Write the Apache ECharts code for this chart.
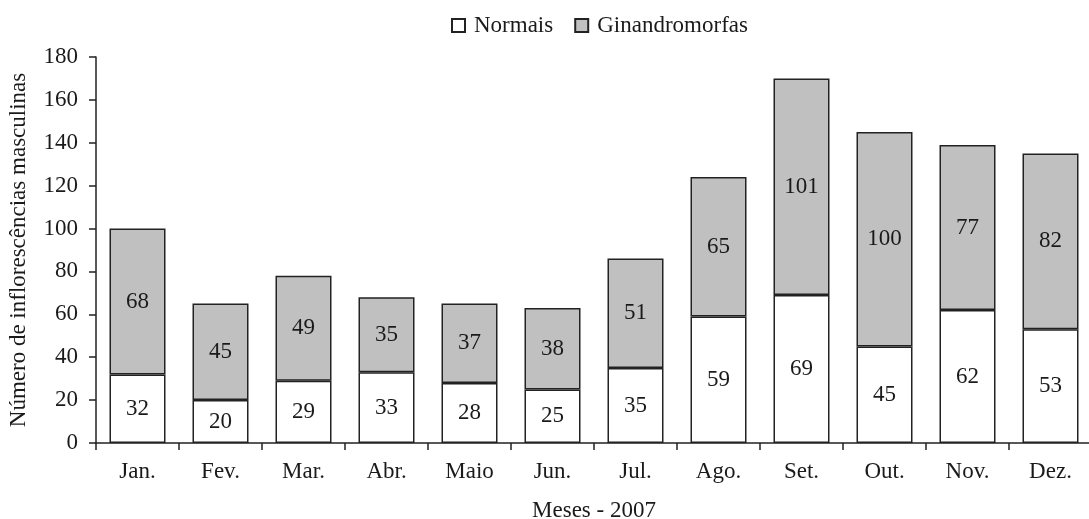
<!DOCTYPE html>
<html><head><meta charset="utf-8">
<script src="https://cdn.jsdelivr.net/npm/echarts@6/dist/echarts.min.js"></script>
<style>html,body{margin:0;padding:0;background:#fff}#c{width:1089px;height:519px}</style>
</head><body><div id="c"></div>
<script>
const categories = ['Jan.','Fev.','Mar.','Abr.','Maio','Jun.','Jul.','Ago.','Set.','Out.','Nov.','Dez.'];
const normais = [32,20,29,33,28,25,35,59,69,45,62,53];
const ginandromorfas = [68,45,49,35,37,38,51,65,101,100,77,82];
const yTicks = [0,20,40,60,80,100,120,140,160,180];

const font = '"Liberation Serif","Times New Roman",serif';
const txt = '#1a1a1a';
const fs = 23;
const chart = echarts.init(document.getElementById('c'));
const lbl = {show:true, position:'inside', color:txt, fontFamily:font, fontSize:fs};
chart.setOption({
  animation:false,
  textStyle:{fontFamily:font, color:txt},
  legend:{top:9, left:446, itemWidth:13, itemHeight:13, itemGap:21, icon:'rect',
    textStyle:{fontFamily:font, fontSize:fs, color:txt, padding:[0,0,0,4]},
    data:['Normais','Ginandromorfas']},
  grid:{left:96, right:-3, top:57, bottom:76, outerBoundsMode:'none', containLabel:false},
  xAxis:{type:'category', data:categories,
    axisLine:{lineStyle:{color:'#222', width:1.5}},
    axisTick:{show:true, length:7, lineStyle:{color:'#222', width:1.5}},
    axisLabel:{color:txt, fontFamily:font, fontSize:fs, margin:17},
    name:'Meses - 2007', nameLocation:'middle', nameGap:56,
    nameTextStyle:{fontFamily:font, fontSize:fs, color:txt}},
  yAxis:{type:'value', min:yTicks[0], max:yTicks[yTicks.length-1], interval:20,
    axisLine:{show:true, lineStyle:{color:'#222', width:1.5}},
    axisTick:{show:true, length:7, lineStyle:{color:'#222', width:1.5}},
    splitLine:{show:false},
    axisLabel:{color:txt, fontFamily:font, fontSize:fs, margin:18},
    name:'Número de inflorescências masculinas', nameLocation:'middle', nameGap:66,
    nameTextStyle:{fontFamily:font, fontSize:fs, color:txt}},
  series:[
    {name:'Normais', type:'bar', stack:'t', data:normais, barWidth:56,
     itemStyle:{color:'#ffffff', borderColor:'#222', borderWidth:1.5}, label:lbl},
    {name:'Ginandromorfas', type:'bar', stack:'t', data:ginandromorfas, barWidth:56,
     itemStyle:{color:'#c0c0c0', borderColor:'#222', borderWidth:1.5}, label:lbl}
  ]
});
</script></body></html>
